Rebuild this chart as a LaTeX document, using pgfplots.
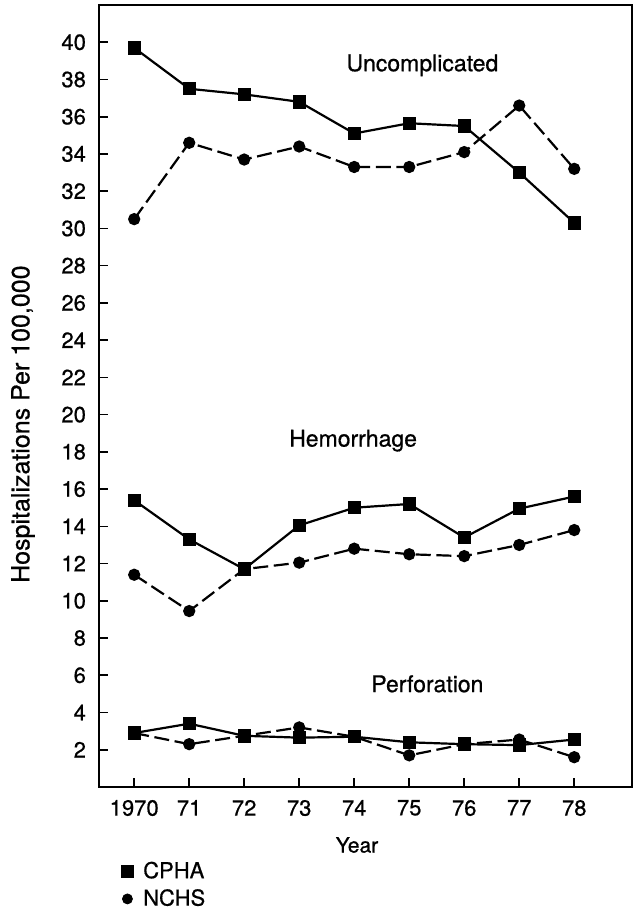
\documentclass[border=0pt]{standalone}
\usepackage{fontspec}
\setmainfont{TeX Gyre Heros}[FakeBold=0.7]
\usepackage{pgfplots}
\pgfplotsset{compat=1.18}
\begin{document}
\begin{tikzpicture}
\useasboundingbox (-49.5pt,-61.5pt) rectangle (269.5pt,393.5pt);
\begin{axis}[
  scale only axis, width=266.5pt, height=391pt,
  xmin=69.36, xmax=79.05, ymin=0, ymax=42,
  xtick={70,71,72,73,74,75,76,77,78},
  xticklabels={1970,71,72,73,74,75,76,77,78},
  ytick={2,4,...,40},
  tick align=inside, major tick length=4.5pt,
  xtick pos=left, ytick pos=left,
  axis line style={line width=0.9pt},
  tick style={line width=0.8pt, black},
  /pgf/number format/assume math mode=true,
  ticklabel style={font=\fontsize{11}{13}\selectfont},
  yticklabel style={xshift=-3pt},
  xticklabel style={yshift=-3pt},
  xlabel={Year},
  ylabel={Hospitalizations Per 100,000},
  xlabel style={at={(axis description cs:0.484,-0.0742)}, anchor=center, font=\fontsize{10.5}{12}\selectfont},
  ylabel style={at={(axis description cs:-0.1426,0.464)}, anchor=center, font=\fontsize{12.5}{14}\selectfont},
  legend style={at={(axis description cs:0.0366,-0.0905)}, anchor=north west, draw=none, fill=none,
    inner sep=0pt, outer sep=0pt, row sep=0pt, font=\fontsize{11}{12}\selectfont, cells={anchor=west}},
  legend image code/.code={\path (0cm,0cm) (0.35cm,0cm);\draw[mark repeat=2,mark phase=2,#1] plot coordinates {(0cm,0cm)(0.15cm,0cm)(0.3cm,0cm)};},
  cphastyle/.style={black, line width=1.1pt, mark=square*, mark size=2.8pt, mark options={solid}},
  nchsstyle/.style={black, line width=1.1pt, dash pattern=on 7.5pt off 2.8pt, mark=*, mark size=2.5pt, mark options={solid}},
]
\addlegendimage{only marks, mark=square*, mark size=2.8pt, black}
\addlegendentry{CPHA}
\addlegendimage{only marks, mark=*, mark size=2.5pt, black}
\addlegendentry{NCHS}
% Uncomplicated
\addplot[cphastyle] coordinates {(70,39.7)(71,37.5)(72,37.2)(73,36.8)(74,35.1)(75,35.65)(76,35.5)(77,33.0)(78,30.3)};
\addplot[nchsstyle] coordinates {(70,30.5)(71,34.6)(72,33.7)(73,34.4)(74,33.3)(75,33.3)(76,34.1)(77,36.6)(78,33.2)};
% Hemorrhage
\addplot[cphastyle] coordinates {(70,15.4)(71,13.3)(72,11.7)(73,14.05)(74,15.0)(75,15.2)(76,13.4)(77,14.95)(78,15.6)};
\addplot[nchsstyle] coordinates {(70,11.4)(71,9.45)(72,11.7)(73,12.05)(74,12.8)(75,12.5)(76,12.4)(77,13.0)(78,13.8)};
% Perforation
\addplot[cphastyle] coordinates {(70,2.9)(71,3.4)(72,2.75)(73,2.65)(74,2.7)(75,2.4)(76,2.3)(77,2.25)(78,2.55)};
\addplot[nchsstyle] coordinates {(70,2.9)(71,2.3)(72,2.75)(73,3.2)(74,2.7)(75,1.7)(76,2.3)(77,2.55)(78,1.6)};
\node[font=\fontsize{11.5}{13}\selectfont] at (axis cs:75.24,38.76) {Uncomplicated};
\node[font=\fontsize{11.5}{13}\selectfont] at (axis cs:73.98,18.6) {Hemorrhage};
\node[font=\fontsize{11.5}{13}\selectfont] at (axis cs:75.33,5.54) {Perforation};
\end{axis}
\end{tikzpicture}
\end{document}
